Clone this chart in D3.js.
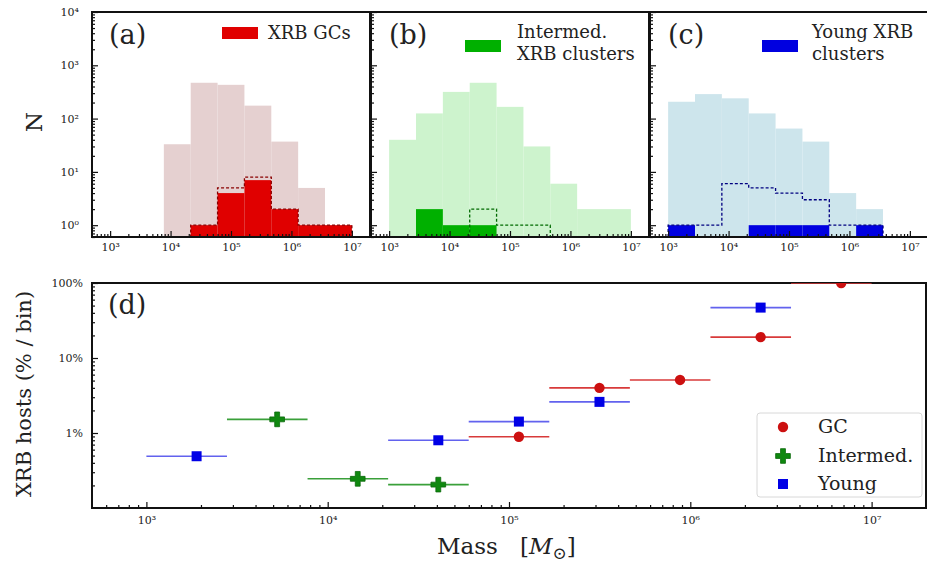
<!DOCTYPE html>
<html><head><meta charset="utf-8">
<script src="https://cdn.jsdelivr.net/npm/d3@7"></script>
<style>
body{margin:0;background:#fff}
svg{display:block}
text{font-family:"DejaVu Serif",serif;fill:#222}
</style>
</head><body>
<svg id="c" width="927" height="567"></svg>
<script>
// ---------- data ----------
const binEdges = [1000, 2783, 7743, 21544, 59948, 166810, 464159, 1291550, 3593814, 10000000];

const gcAll      = [0, 0, 33, 470, 430, 175, 37, 5, 1];
const gcXrb      = [0, 0, 0, 1, 4, 7, 2, 1, 1];
const gcDashed   = [0, 0, 0, 1, 5, 8, 2, 1, 1];

const intAll     = [40, 125, 317, 470, 166, 30, 6, 2, 2];
const intXrb     = [0, 2, 1, 1, 0, 0, 0, 0, 0];
const intDashed  = [0, 0, 0, 2, 1, 1, 0, 0, 0];

const youngAll   = [207, 288, 240, 125, 65, 37, 4, 2, 0];
const youngXrb   = [1, 0, 0, 1, 1, 1, 0, 1, 0];
const youngDashed= [1, 1, 6, 5, 4, 3, 1, 1, 0];

const countTicks = [1, 10, 100, 1000, 10000];
const countTickLabels = ["10\u2070", "10\u00b9", "10\u00b2", "10\u00b3", "10\u2074"];
const massTicks = [1e3, 1e4, 1e5, 1e6, 1e7];
const massTickLabels = ["10\u00b3", "10\u2074", "10\u2075", "10\u2076", "10\u2077"];
const pctTicks = [1, 10, 100];
const pctTickLabels = ["1%", "10%", "100%"];

// panel (d): fraction of clusters hosting XRBs per bin
const gcMass   = [113379, 315485, 877855, 2442682, 6796907];
const gcLo     = [59948, 166810, 464159, 1291550, 3593814];
const gcHi     = [166810, 464159, 1291550, 3593814, 10000000];
const gcPct    = [0.89, 4.0, 5.1, 19.0, 100];

const intMass  = [5263, 14644, 40746];
const intLo    = [2783, 7743, 21544];
const intHi    = [7743, 21544, 59948];
const intPct   = [1.52, 0.245, 0.205];

const youngMass= [1892, 40746, 113379, 315485, 2442682];
const youngLo  = [1000, 21544, 59948, 166810, 1291550];
const youngHi  = [2783, 59948, 166810, 464159, 3593814];
const youngPct = [0.49, 0.80, 1.42, 2.6, 47];

// ---------- drawing ----------
const svg = d3.select("#c");
const defs = svg.append("defs");
const massDomain = [Math.pow(10, 2.7), Math.pow(10, 7.3)];

function logMinor(scale) {
  return scale.ticks().filter(v => Math.abs(Math.log10(v) - Math.round(Math.log10(v))) > 1e-6);
}

function drawAxes(g, x, y, x0, x1, yTop, yBot, yTicks, yLabels, fs, padX, padY, showY) {
  const ax = g.append("g").attr("transform", `translate(0,${yBot})`);
  ax.call(d3.axisBottom(x).tickValues(massTicks).tickSize(-6).tickPadding(padX)
      .tickFormat((d, i) => massTickLabels[i]));
  ax.append("g").call(d3.axisBottom(x).tickValues(logMinor(x)).tickSize(-3).tickFormat(""));
  ax.selectAll(".domain").remove();
  ax.selectAll("text").attr("font-family", "DejaVu Serif").attr("font-size", fs).attr("fill", "#333");
  ax.selectAll("line").attr("stroke", "#111").attr("stroke-width", 1.2);
  const ay = g.append("g").attr("transform", `translate(${x0},0)`);
  ay.call(d3.axisLeft(y).tickValues(yTicks).tickSize(-6).tickPadding(padY)
      .tickFormat((d, i) => showY ? yLabels[i] : ""));
  ay.append("g").call(d3.axisLeft(y).tickValues(logMinor(y)).tickSize(-3).tickFormat(""));
  ay.selectAll(".domain").remove();
  ay.selectAll("text").attr("font-family", "DejaVu Serif").attr("font-size", fs).attr("fill", "#333");
  ay.selectAll("line").attr("stroke", "#111").attr("stroke-width", 1.2);
  g.append("rect").attr("x", x0).attr("y", yTop).attr("width", x1 - x0).attr("height", yBot - yTop)
    .attr("fill", "none").attr("stroke", "#111").attr("stroke-width", 2);
}

const topY0 = 12, topY1 = 237;
const panels = [
  {id: "a", x0: 92, x1: 370, all: gcAll, xrb: gcXrb, dash: gcDashed, showY: true,
   light: "#e5d0d0", dark: "#e00000", dashCol: "#8a0000", label: "(a)", labX: 109,
   leg: ["XRB GCs"], patch: [222, 27], legX: 268, legY: [39]},
  {id: "b", x0: 371, x1: 649, all: intAll, xrb: intXrb, dash: intDashed, showY: false,
   light: "#cdf3cd", dark: "#00b000", dashCol: "#006a00", label: "(b)", labX: 389,
   leg: ["Intermed.", "XRB clusters"], patch: [465, 40], legX: 517, legY: [38, 60]},
  {id: "c", x0: 650, x1: 928, all: youngAll, xrb: youngXrb, dash: youngDashed, showY: false,
   light: "#cde5ec", dark: "#0000e0", dashCol: "#000080", label: "(c)", labX: 668,
   leg: ["Young XRB", "clusters"], patch: [762, 40], legX: 812, legY: [38, 60]}
];

panels.forEach(p => {
  const x = d3.scaleLog().domain(massDomain).range([p.x0, p.x1]);
  const y = d3.scaleLog().domain([0.6, 1e4]).range([topY1, topY0]);
  const g = svg.append("g");
  defs.append("clipPath").attr("id", "clip" + p.id).append("rect")
    .attr("x", p.x0).attr("y", topY0).attr("width", p.x1 - p.x0).attr("height", topY1 - topY0);
  const pg = g.append("g").attr("clip-path", `url(#clip${p.id})`);
  const bins = d3.range(p.all.length);
  pg.selectAll("rect.light").data(bins.filter(i => p.all[i] > 0)).join("rect")
    .attr("x", i => x(binEdges[i])).attr("width", i => x(binEdges[i + 1]) - x(binEdges[i]))
    .attr("y", i => y(p.all[i])).attr("height", i => topY1 - y(p.all[i]))
    .attr("fill", p.light);
  pg.selectAll("rect.dark").data(bins.filter(i => p.xrb[i] > 0)).join("rect")
    .attr("x", i => x(binEdges[i])).attr("width", i => x(binEdges[i + 1]) - x(binEdges[i]))
    .attr("y", i => y(p.xrb[i])).attr("height", i => topY1 - y(p.xrb[i]))
    .attr("fill", p.dark);
  const yy = v => v > 0 ? y(v) : topY1 + 5;
  let d = `M${x(binEdges[0])},${topY1 + 5}`;
  bins.forEach(i => { d += `L${x(binEdges[i])},${yy(p.dash[i])}L${x(binEdges[i + 1])},${yy(p.dash[i])}`; });
  d += `L${x(binEdges[bins.length])},${topY1 + 5}`;
  pg.append("path").attr("d", d).attr("fill", "none").attr("stroke", p.dashCol)
    .attr("stroke-width", 1.3).attr("stroke-dasharray", "3,2");
  drawAxes(g, x, y, p.x0, p.x1, topY0, topY1, countTicks, countTickLabels, 11, 6, 13, p.showY);
  g.append("text").attr("x", p.labX).attr("y", 44).attr("font-size", 27).text(p.label);
  g.append("rect").attr("x", p.patch[0]).attr("y", p.patch[1]).attr("width", 36).attr("height", 12)
    .attr("fill", p.dark);
  p.leg.forEach((t, i) => g.append("text").attr("x", p.legX).attr("y", p.legY[i])
    .attr("font-size", 18).attr("fill", "#333").text(t));
});

svg.append("text").attr("transform", "translate(42,122) rotate(-90)").attr("text-anchor", "middle")
  .attr("font-size", 23).text("N");

// ---------- panel (d) ----------
const dX0 = 92, dX1 = 926, dY0 = 283, dY1 = 508;
const xd = d3.scaleLog().domain(massDomain).range([dX0, dX1]);
const yd = d3.scaleLog().domain([0.1, 100]).range([dY1, dY0]);
const gd = svg.append("g");
defs.append("clipPath").attr("id", "clipd").append("rect")
  .attr("x", dX0).attr("y", dY0).attr("width", dX1 - dX0).attr("height", dY1 - dY0);
drawAxes(gd, xd, yd, dX0, dX1, dY0, dY1, pctTicks, pctTickLabels, 11, 8, 9, true);
const pd = gd.append("g").attr("clip-path", "url(#clipd)");

function series(mass, lo, hi, pct, lineCol, drawMarker) {
  const idx = d3.range(mass.length);
  pd.selectAll(null).data(idx).join("line")
    .attr("x1", i => xd(lo[i])).attr("x2", i => xd(hi[i]))
    .attr("y1", i => yd(pct[i])).attr("y2", i => yd(pct[i]))
    .attr("stroke", lineCol).attr("stroke-width", 1.6);
  idx.forEach(i => drawMarker(pd, xd(mass[i]), yd(pct[i])));
}
const circleM = (g, cx, cy) => g.append("circle").attr("cx", cx).attr("cy", cy).attr("r", 5.2).attr("fill", "#cc1010");
const plusM = (g, cx, cy) => g.append("path").attr("transform", `translate(${cx},${cy})`)
  .attr("d", d3.symbol(d3.symbolCross, 120)()).attr("fill", "#0f880f").attr("stroke", "#0b6a0b").attr("stroke-width", 0.8);
const squareM = (g, cx, cy) => g.append("rect").attr("x", cx - 5).attr("y", cy - 5).attr("width", 10).attr("height", 10).attr("fill", "#0000e6");

series(gcMass, gcLo, gcHi, gcPct, "#d83a3a", circleM);
series(intMass, intLo, intHi, intPct, "#3aa03a", plusM);
series(youngMass, youngLo, youngHi, youngPct, "#6262ee", squareM);

const lg = gd.append("g");
lg.append("rect").attr("x", 757).attr("y", 413).attr("width", 165).attr("height", 84).attr("rx", 3)
  .attr("fill", "#fff").attr("fill-opacity", 0.85).attr("stroke", "#d8d8d8");
const legItems = [["GC", circleM, 427], ["Intermed.", plusM, 456], ["Young", squareM, 484]];
legItems.forEach(([t, m, yy]) => {
  m(lg, 783, yy);
  lg.append("text").attr("x", 818).attr("y", yy + 6).attr("font-size", 19).attr("fill", "#333").text(t);
});

gd.append("text").attr("x", 108).attr("y", 314).attr("font-size", 27).text("(d)");

svg.append("text").attr("transform", "translate(31,394) rotate(-90)").attr("text-anchor", "middle")
  .attr("font-size", 21).text("XRB hosts (% / bin)");

const xl = svg.append("text").attr("x", 437).attr("y", 554).attr("font-size", 23);
xl.append("tspan").text("Mass");
xl.append("tspan").attr("x", 520).text("[");
xl.append("tspan").attr("font-style", "italic").text("M");
xl.append("tspan").attr("font-size", 17).attr("dy", 5).text("\u2299");
xl.append("tspan").attr("dy", -5).text("]");
</script>
</body></html>
